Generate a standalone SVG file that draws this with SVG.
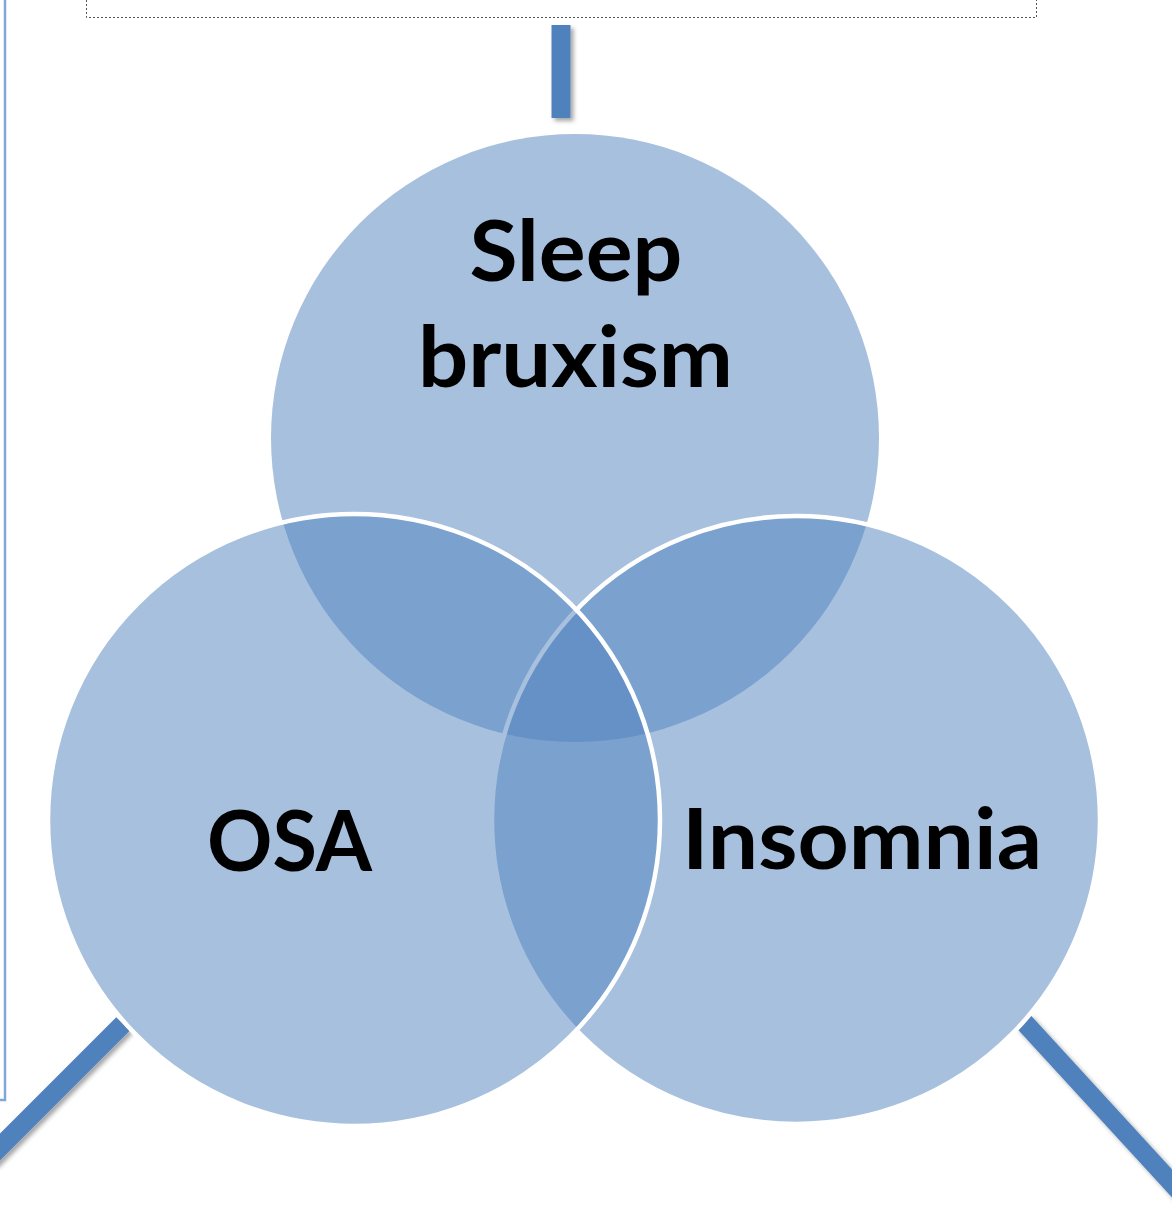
<svg xmlns="http://www.w3.org/2000/svg" width="1172" height="1218" viewBox="0 0 1172 1218">
  <defs>
    <filter id="shadow" filterUnits="userSpaceOnUse" x="-50" y="-50" width="1272" height="1318">
      <feDropShadow dx="3" dy="3" stdDeviation="2" flood-color="#000000" flood-opacity="0.35"/>
    </filter>
    <style>
      .conn { stroke: #4f81bd; stroke-width: 19; fill: none; filter: url(#shadow); }
      .circle { fill: #4f81bd; fill-opacity: 0.5; }
      .outlined { stroke: #ffffff; stroke-width: 4.5; }
      .label { font-family: Lato, "Open Sans", "Liberation Sans", sans-serif; font-weight: bold; font-size: 84px; fill: #000000; text-anchor: middle; }
      .dotted { fill: none; stroke: #555555; stroke-width: 1; stroke-dasharray: 2 2; }
      .frame { fill: none; stroke: #7fa7dc; stroke-width: 2.5; }
    </style>
  </defs>
  <rect width="1172" height="1218" fill="#ffffff"/>
  <g id="frame-left">
    <polyline class="frame" points="5,0 5,1100 0,1100"/>
  </g>
  <g id="top-box">
    <polyline class="dotted" points="86.5,0 86.5,17.5 1036.5,17.5 1036.5,0"/>
  </g>
  <g id="connectors">
    <line class="conn" x1="561" y1="25" x2="561" y2="118"/>
    <line class="conn" x1="123" y1="1024" x2="-12" y2="1159"/>
    <line class="conn" x1="1023" y1="1021" x2="1190" y2="1203"/>
  </g>
  <g id="sleep-bruxism">
    <circle class="circle" cx="575" cy="438" r="304"/>
  </g>
  <g id="insomnia">
    <circle class="circle outlined" cx="796" cy="820" r="304"/>
  </g>
  <g id="osa">
    <circle class="circle outlined" cx="354" cy="820" r="306"/>
  </g>
  <g id="labels">
    <text class="label" x="576" y="281" textLength="213" lengthAdjust="spacingAndGlyphs">Sleep</text>
    <text class="label" x="575.5" y="387" textLength="315" lengthAdjust="spacingAndGlyphs">bruxism</text>
    <text class="label" x="289.5" y="871" textLength="165" lengthAdjust="spacingAndGlyphs">OSA</text>
    <text class="label" x="862" y="869" textLength="360" lengthAdjust="spacingAndGlyphs">Insomnia</text>
  </g>
</svg>
